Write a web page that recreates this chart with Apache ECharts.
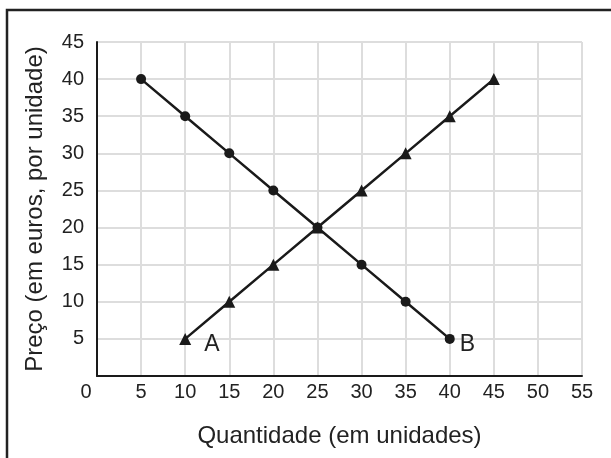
<!DOCTYPE html>
<html><head><meta charset="utf-8">
<script src="https://cdn.jsdelivr.net/npm/echarts@6/dist/echarts.min.js"></script>
<style>html,body{margin:0;padding:0;background:#fff}#c{width:611px;height:458px}</style>
</head><body><div id="c"></div>
<script>
const xTicks = [0,5,10,15,20,25,30,35,40,45,50,55];
const yTicks = [0,5,10,15,20,25,30,35,40,45];
const seriesB = [[5,40],[10,35],[15,30],[20,25],[25,20],[30,15],[35,10],[40,5]];
const seriesA = [[10,5],[15,10],[20,15],[25,20],[30,25],[35,30],[40,35],[45,40]];
const labelA = 'A', labelB = 'B';
const xName = 'Quantidade (em unidades)';
const yName = 'Preço (em euros, por unidade)';

const FONT = 'Liberation Sans, Arial, sans-serif';
const TXT = '#222';
const chart = echarts.init(document.getElementById('c'), null, {renderer:'canvas'});
chart.setOption({
  animation:false,
  backgroundColor:'#fff',
  graphic:[{type:'rect', shape:{x:7,y:10,width:640,height:480}, style:{fill:'none', stroke:'#222', lineWidth:2.5}, z:100}],
  grid:{left:97,right:29,top:42,bottom:82,containLabel:false},
  xAxis:{type:'value', min:xTicks[0], max:xTicks[xTicks.length-1], interval:5,
    name:xName, nameLocation:'middle', nameGap:48,
    nameTextStyle:{fontFamily:FONT,fontSize:24,color:TXT},
    axisLine:{show:true,onZero:false,lineStyle:{color:'#1a1a1a',width:2}},
    axisTick:{show:false},
    splitLine:{show:true,lineStyle:{color:'#dddddd',width:2}},
    axisLabel:{margin:6,fontFamily:FONT,fontSize:20,color:TXT,
      formatter:v=> v===0 ? '{z|0}' : String(v),
      rich:{z:{fontFamily:FONT,fontSize:20,color:TXT,padding:[0,22,0,0]}}}
  },
  yAxis:{type:'value', min:yTicks[0], max:yTicks[yTicks.length-1], interval:5,
    name:yName, nameLocation:'middle', nameGap:50, nameRotate:90,
    nameTextStyle:{fontFamily:FONT,fontSize:24,color:TXT},
    axisLine:{show:true,onZero:false,lineStyle:{color:'#1a1a1a',width:2}},
    axisTick:{show:false},
    splitLine:{show:true,lineStyle:{color:'#dddddd',width:2}},
    axisLabel:{margin:13,fontFamily:FONT,fontSize:20,color:TXT,
      formatter:v=> v===0 ? '' : String(v)}
  },
  series:[
    {type:'line', data:seriesB, symbol:'circle', symbolSize:10,
      lineStyle:{color:'#1a1a1a',width:2.5}, itemStyle:{color:'#1a1a1a'}, z:3,
      label:{show:true, position:'right', offset:[0,6], fontFamily:FONT, fontSize:23, color:TXT,
        formatter:p=> p.dataIndex===seriesB.length-1 ? labelB : ''}},
    {type:'line', data:seriesA, symbol:'triangle', symbolSize:12,
      lineStyle:{color:'#1a1a1a',width:2.5}, itemStyle:{color:'#1a1a1a'}, z:3,
      label:{show:true, position:'right', offset:[8,6], fontFamily:FONT, fontSize:23, color:TXT,
        formatter:p=> p.dataIndex===0 ? labelA : ''}}
  ]
});
</script></body></html>
